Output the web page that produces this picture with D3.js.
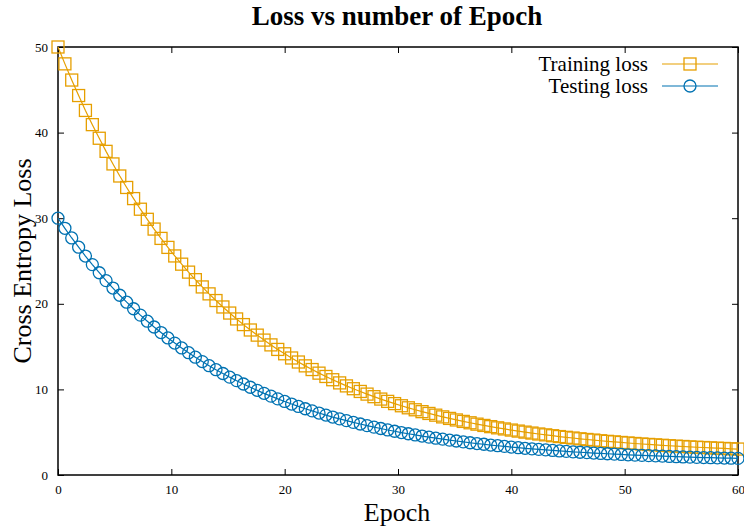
<!DOCTYPE html>
<html>
<head>
<meta charset="utf-8">
<script src="https://cdn.jsdelivr.net/npm/d3@7/dist/d3.min.js"></script>
<style>
  html, body { margin: 0; padding: 0; background: #fff; }
  svg { display: block; font-family: "Liberation Serif", "Times New Roman", serif; }
</style>
</head>
<body>
<svg id="chart" width="744" height="532"></svg>
<script>
// Epoch sample positions (100 samples over 0..60)
const epochs = [
  0, 0.61, 1.21, 1.82, 2.42, 3.03, 3.64, 4.24, 4.85, 5.45,
  6.06, 6.67, 7.27, 7.88, 8.48, 9.09, 9.70, 10.30, 10.91, 11.52,
  12.12, 12.73, 13.33, 13.94, 14.55, 15.15, 15.76, 16.36, 16.97, 17.58,
  18.18, 18.79, 19.39, 20.00, 20.61, 21.21, 21.82, 22.42, 23.03, 23.64,
  24.24, 24.85, 25.45, 26.06, 26.67, 27.27, 27.88, 28.48, 29.09, 29.70,
  30.30, 30.91, 31.52, 32.12, 32.73, 33.33, 33.94, 34.55, 35.15, 35.76,
  36.36, 36.97, 37.58, 38.18, 38.79, 39.39, 40.00, 40.61, 41.21, 41.82,
  42.42, 43.03, 43.64, 44.24, 44.85, 45.45, 46.06, 46.67, 47.27, 47.88,
  48.48, 49.09, 49.70, 50.30, 50.91, 51.52, 52.12, 52.73, 53.33, 53.94,
  54.55, 55.15, 55.76, 56.36, 56.97, 57.58, 58.18, 58.79, 59.39, 60.00
];

const trainingLoss = [
  50.00, 48.03, 46.14, 44.33, 42.59, 40.93, 39.34, 37.81, 36.34, 34.93,
  33.59, 32.29, 31.05, 29.87, 28.73, 27.64, 26.59, 25.59, 24.63, 23.70,
  22.82, 21.97, 21.16, 20.38, 19.63, 18.92, 18.23, 17.57, 16.94, 16.34,
  15.76, 15.20, 14.67, 14.16, 13.67, 13.20, 12.75, 12.32, 11.90, 11.51,
  11.13, 10.76, 10.41, 10.08, 9.76, 9.45, 9.15, 8.87, 8.60, 8.34,
  8.09, 7.85, 7.62, 7.40, 7.19, 6.99, 6.79, 6.61, 6.43, 6.26,
  6.10, 5.94, 5.79, 5.65, 5.51, 5.38, 5.25, 5.13, 5.01, 4.90,
  4.79, 4.69, 4.59, 4.49, 4.40, 4.32, 4.23, 4.15, 4.08, 4.00,
  3.93, 3.87, 3.80, 3.74, 3.68, 3.62, 3.57, 3.52, 3.47, 3.42,
  3.37, 3.33, 3.28, 3.24, 3.21, 3.17, 3.13, 3.10, 3.06, 3.03
];

const testingLoss = [
  30.00, 28.82, 27.69, 26.61, 25.58, 24.58, 23.63, 22.71, 21.84, 21.00,
  20.19, 19.42, 18.68, 17.97, 17.29, 16.64, 16.01, 15.41, 14.84, 14.29,
  13.76, 13.25, 12.77, 12.30, 11.86, 11.43, 11.02, 10.63, 10.25, 9.89,
  9.54, 9.21, 8.89, 8.59, 8.29, 8.01, 7.74, 7.49, 7.24, 7.00,
  6.77, 6.56, 6.35, 6.15, 5.96, 5.77, 5.59, 5.43, 5.26, 5.11,
  4.96, 4.82, 4.68, 4.55, 4.42, 4.30, 4.19, 4.07, 3.97, 3.87,
  3.77, 3.67, 3.59, 3.50, 3.42, 3.34, 3.26, 3.19, 3.12, 3.05,
  2.99, 2.93, 2.87, 2.81, 2.76, 2.70, 2.66, 2.61, 2.56, 2.52,
  2.48, 2.44, 2.40, 2.36, 2.32, 2.29, 2.26, 2.23, 2.20, 2.17,
  2.14, 2.11, 2.09, 2.06, 2.04, 2.02, 2.00, 1.98, 1.96, 1.94
];

const xTicks = [0, 10, 20, 30, 40, 50, 60];
const yTicks = [0, 10, 20, 30, 40, 50];

const seriesNames = ["Training loss", "Testing loss"];
const seriesColors = ["#e69f00", "#0072b2"];

const svg = d3.select("#chart");
const plot = { left: 58, right: 738, top: 47, bottom: 475 };

const x = d3.scaleLinear().domain([0, 60]).range([plot.left, plot.right]);
const y = d3.scaleLinear().domain([0, 50]).range([plot.bottom, plot.top]);

// Title
svg.append("text")
  .attr("x", 397).attr("y", 25)
  .attr("text-anchor", "middle")
  .attr("font-size", 27).attr("font-weight", "bold")
  .text("Loss vs number of Epoch");

// Axis labels
svg.append("text")
  .attr("x", 397).attr("y", 521)
  .attr("text-anchor", "middle")
  .attr("font-size", 26)
  .text("Epoch");

svg.append("text")
  .attr("transform", `translate(31, ${(plot.top + plot.bottom) / 2}) rotate(-90)`)
  .attr("text-anchor", "middle")
  .attr("font-size", 26)
  .text("Cross Entropy Loss");

// Axes with inward ticks, mirrored on top and right
const tickLen = 6;
const axisBottom = d3.axisBottom(x).tickValues(xTicks).tickSize(-tickLen).tickPadding(tickLen + 4).tickFormat(d3.format("d"));
const axisLeft = d3.axisLeft(y).tickValues(yTicks).tickSize(-tickLen).tickPadding(tickLen + 4).tickFormat(d3.format("d"));
const axisTop = d3.axisTop(x).tickValues(xTicks).tickSize(-tickLen).tickFormat("");
const axisRight = d3.axisRight(y).tickValues(yTicks).tickSize(-tickLen).tickFormat("");

function styleAxis(g) {
  g.select(".domain").remove();
  g.selectAll(".tick line").attr("stroke", "#000").attr("stroke-width", 1);
  g.selectAll(".tick text").attr("font-family", "Liberation Serif, serif").attr("font-size", 13).attr("fill", "#000");
}

svg.append("g").attr("transform", `translate(0,${plot.bottom})`).call(axisBottom).call(styleAxis);
svg.append("g").attr("transform", `translate(${plot.left},0)`).call(axisLeft).call(styleAxis);
svg.append("g").attr("transform", `translate(0,${plot.top})`).call(axisTop).call(styleAxis);
svg.append("g").attr("transform", `translate(${plot.right},0)`).call(axisRight).call(styleAxis);

// Plot border
svg.append("rect")
  .attr("x", plot.left).attr("y", plot.top)
  .attr("width", plot.right - plot.left).attr("height", plot.bottom - plot.top)
  .attr("fill", "none").attr("stroke", "#000").attr("stroke-width", 1.5);

// Series
const series = [trainingLoss, testingLoss];
const line = d3.line().x((d, i) => x(epochs[i])).y(d => y(d));
const markerSize = 12;

function drawMarker(g, kind, cx, cy, color) {
  if (kind === 0) {
    g.append("rect")
      .attr("x", cx - markerSize / 2).attr("y", cy - markerSize / 2)
      .attr("width", markerSize).attr("height", markerSize)
      .attr("fill", "none").attr("stroke", color).attr("stroke-width", 1.3);
  } else {
    g.append("circle")
      .attr("cx", cx).attr("cy", cy).attr("r", markerSize / 2)
      .attr("fill", "none").attr("stroke", color).attr("stroke-width", 1.3);
  }
}

series.forEach((vals, s) => {
  const g = svg.append("g");
  g.append("path").datum(vals).attr("d", line)
    .attr("fill", "none").attr("stroke", seriesColors[s]).attr("stroke-width", 1.2);
  vals.forEach((v, i) => drawMarker(g, s, x(epochs[i]), y(v), seriesColors[s]));
});

// Legend
seriesNames.forEach((name, s) => {
  const ly = 64 + s * 22;
  svg.append("text")
    .attr("x", 648).attr("y", ly + 7)
    .attr("text-anchor", "end")
    .attr("font-size", 21)
    .text(name);
  const g = svg.append("g");
  g.append("line")
    .attr("x1", 662).attr("x2", 718).attr("y1", ly).attr("y2", ly)
    .attr("stroke", seriesColors[s]).attr("stroke-width", 1.2);
  drawMarker(g, s, 690, ly, seriesColors[s]);
});
</script>
</body>
</html>
